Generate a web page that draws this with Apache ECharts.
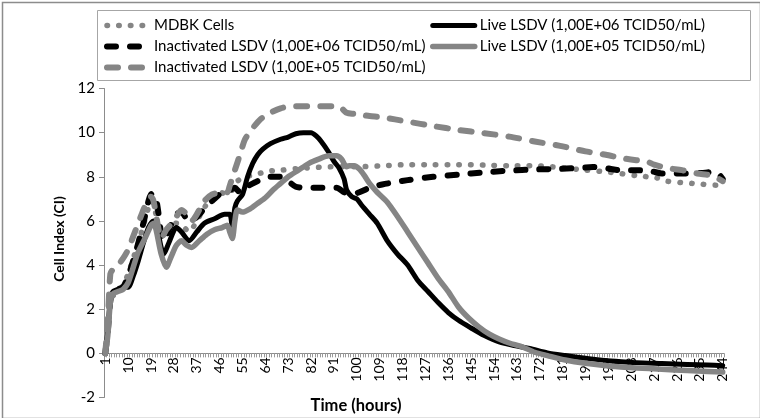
<!DOCTYPE html>
<html><head><meta charset="utf-8">
<script src="https://cdn.jsdelivr.net/npm/echarts@6/dist/echarts.min.js"></script>
<style>html,body{margin:0;padding:0;background:#fff}#c{width:760px;height:418px}</style>
</head><body><div id="c"></div>
<script>
// Category labels: time points 1..244 (labelled every 9th)
const timePoints = [];
for (let h = 1; h <= 244; h++) timePoints.push(String(h));

const seriesNames = [
  'MDBK Cells',
  'Live LSDV (1,00E+06 TCID50/mL)',
  'Inactivated LSDV (1,00E+06 TCID50/mL)',
  'Live LSDV (1,00E+05 TCID50/mL)',
  'Inactivated LSDV (1,00E+05 TCID50/mL)'
];

// [time point, cell index]
const mdbk = [[1,0],[2,0.8],[3,2.4],[4,2.6],[6,2.8],[8,3.1],[10,3.6],[12,4.3],[14,5.0],[16,5.8],[18,6.6],[19,6.9],[20,6.8],[22,5.7],[24,5.2],[26,5.5],[29,5.9],[32,5.7],[34,5.5],[37,6.0],[40,6.6],[43,7.1],[46,7.3],[49,7.2],[51,7.4],[53,7.8],[56,8.0],[60,8.1],[65,8.25],[70,8.3],[80,8.4],[90,8.45],[100,8.45],[110,8.5],[120,8.55],[130,8.55],[140,8.55],[150,8.53],[160,8.5],[170,8.5],[180,8.42],[190,8.3],[200,8.2],[210,8.05],[218,7.95],[222,7.8],[232,7.7],[242,7.62],[244,7.65]];

const live6 = [[1,0],[2,1.0],[3,2.5],[4,2.8],[6,2.9],[8,3.0],[10,3.0],[12,3.5],[14,4.2],[16,5.0],[18,5.7],[20,6.0],[21,5.9],[23,4.8],[24,4.5],[26,5.0],[29,5.7],[31,5.5],[34,5.1],[37,5.5],[40,5.9],[44,6.1],[48,6.3],[50,6.3],[51,5.7],[52,6.6],[53,6.9],[55,7.2],[57,8.0],[59,8.6],[61,9.0],[63,9.25],[66,9.5],[70,9.7],[73,9.8],[76,9.95],[79,10.0],[82,10.0],[84,9.85],[86,9.6],[89,9.1],[91,8.7],[93,8.4],[95,7.9],[96,7.4],[98,7.1],[100,7.0],[102,6.7],[105,6.3],[108,5.9],[112,5.1],[116,4.5],[120,4.0],[124,3.3],[128,2.8],[132,2.3],[136,1.85],[140,1.5],[145,1.15],[150,0.82],[156,0.52],[162,0.35],[168,0.22],[175,0.02],[182,-0.1],[190,-0.22],[200,-0.35],[210,-0.42],[220,-0.46],[230,-0.5],[238,-0.53],[244,-0.56]];

const inact6 = [[1,0],[2,1.0],[3,2.4],[4,2.7],[6,2.9],[8,3.0],[10,3.5],[12,4.2],[14,5.0],[16,5.9],[18,6.9],[19,7.2],[20,7.25],[21,7.0],[22,6.3],[23,5.4],[24,5.1],[26,5.6],[29,6.3],[31,6.4],[33,6.1],[35,6.0],[38,6.3],[41,6.7],[44,7.0],[47,7.3],[50,7.4],[52,7.5],[54,7.3],[56,7.5],[60,7.75],[65,8.0],[70,8.0],[73,7.8],[76,7.55],[80,7.5],[86,7.5],[92,7.5],[95,7.3],[98,7.2],[101,7.3],[105,7.5],[110,7.65],[120,7.85],[130,8.0],[140,8.1],[150,8.2],[160,8.28],[170,8.33],[180,8.36],[190,8.42],[196,8.45],[200,8.35],[204,8.3],[210,8.3],[216,8.25],[220,8.15],[226,8.15],[232,8.15],[238,8.2],[241,8.25],[244,7.9]];

const live5 = [[1,0],[2,0.8],[3,2.3],[4,2.7],[6,2.8],[8,2.9],[10,3.2],[12,3.9],[14,4.6],[17,5.3],[19,5.8],[20,5.9],[21,5.6],[23,4.5],[25,3.9],[27,4.4],[29,4.9],[31,5.1],[33,4.9],[35,4.8],[38,5.1],[41,5.4],[44,5.6],[47,5.7],[49,5.8],[50,5.5],[51,5.2],[52,6.0],[53,6.5],[55,6.4],[58,6.55],[61,6.8],[64,7.05],[67,7.4],[70,7.7],[73,8.0],[77,8.3],[81,8.6],[85,8.8],[89,8.95],[92,8.95],[94,8.8],[96,8.45],[97,8.5],[99,8.5],[101,8.35],[103,8.05],[105,7.7],[108,7.3],[112,6.85],[116,6.2],[120,5.5],[124,4.8],[128,4.1],[132,3.4],[136,2.8],[140,2.1],[144,1.6],[148,1.2],[152,0.88],[156,0.65],[160,0.47],[165,0.3],[170,0.05],[175,-0.1],[182,-0.3],[190,-0.45],[200,-0.58],[210,-0.66],[220,-0.72],[230,-0.78],[238,-0.82],[244,-0.85]];

const inact5 = [[1,0],[2,1.5],[3,3.6],[4,3.8],[6,4.0],[8,4.3],[10,4.7],[12,5.3],[14,5.9],[16,6.5],[18,7.0],[19,7.1],[20,6.9],[22,5.6],[23,5.2],[25,5.6],[28,6.0],[31,6.5],[33,6.3],[35,6.0],[38,6.5],[40,6.9],[43,7.2],[47,7.3],[49,7.3],[50,7.6],[52,8.3],[54,9.0],[56,9.7],[59,10.2],[62,10.6],[66,10.9],[70,11.1],[74,11.2],[80,11.2],[86,11.2],[92,11.2],[94,11.1],[96,10.9],[99,10.85],[102,10.8],[105,10.75],[110,10.7],[115,10.6],[120,10.5],[130,10.3],[140,10.12],[150,9.98],[160,9.82],[170,9.6],[180,9.4],[190,9.15],[198,9.0],[204,8.85],[210,8.75],[214,8.7],[217,8.55],[222,8.4],[228,8.3],[234,8.15],[240,8.05],[244,7.8]];

const yTicks = [-2, 0, 2, 4, 6, 8, 10, 12];

const GRAY = '#858585';
const BLACK = '#000000';
const styles = [
  {color: GRAY, width: 5.5, type: [0.5, 11.2]},
  {color: BLACK, width: 5, type: 'solid'},
  {color: BLACK, width: 6, type: [9, 14]},
  {color: GRAY, width: 5.5, type: 'solid'},
  {color: GRAY, width: 6, type: [11, 13]}
];
const dataSets = [mdbk, live6, inact6, live5, inact5];

const toIdx = arr => arr.map(p => [p[0] - 1, p[1]]);

const series = dataSets.map((d, k) => ({
  name: seriesNames[k],
  type: 'line',
  data: toIdx(d),
  symbol: 'none',
  smooth: 0.25,
  color: styles[k].color,
  lineStyle: {color: styles[k].color, width: styles[k].width, type: styles[k].type, cap: 'round', join: 'round'},
  emphasis: {disabled: true},
  z: 2 + k
}));

const legendItem = k => ({
  name: seriesNames[k],
  lineStyle: {color: styles[k].color, width: styles[k].width, type: styles[k].type, cap: 'round'},
  itemStyle: {opacity: 0}
});

const FONT = 'Lato';
const GRID_TOP = 88.5, GRID_H = 309;
const zeroOffset = GRID_H * (0 - yTicks[0]) / (yTicks[yTicks.length - 1] - yTicks[0]);

const chart = echarts.init(document.getElementById('c'), null, {renderer: 'canvas'});
chart.setOption({
  animation: false,
  backgroundColor: '#fff',
  textStyle: {fontFamily: FONT},
  grid: {left: 104, top: GRID_TOP, width: 620, height: GRID_H, containLabel: false, outerBoundsMode: 'none'},
  legend: [
    {orient: 'vertical', left: 104, top: 18, padding: 0, itemWidth: 42, itemHeight: 14, itemGap: 6,
     textStyle: {fontSize: 15, color: '#000', fontFamily: FONT}, itemStyle: {opacity: 0},
     data: [legendItem(0), legendItem(2), legendItem(4)], selectedMode: false},
    {orient: 'vertical', left: 430, top: 18, padding: 0, itemWidth: 42, itemHeight: 14, itemGap: 6,
     textStyle: {fontSize: 15, color: '#000', fontFamily: FONT}, itemStyle: {opacity: 0},
     data: [legendItem(1), legendItem(3)], selectedMode: false}
  ],
  xAxis: {
    type: 'category',
    data: timePoints,
    boundaryGap: true,
    position: 'bottom',
    offset: -zeroOffset,
    axisLine: {onZero: false, lineStyle: {color: '#8c8c8c', width: 1}},
    axisTick: {show: true, interval: 0, length: 4, lineStyle: {color: '#9a9a9a'}},
    axisLabel: {interval: 8, rotate: 90, fontSize: 14, color: '#000', fontFamily: FONT, margin: 4},
    name: 'Time (hours)',
    nameLocation: 'middle',
    nameGap: 44,
    nameTextStyle: {fontSize: 16.5, fontWeight: 'bold', color: '#000', fontFamily: FONT, padding: [0, 116, 0, 0]},
    splitLine: {show: false}
  },
  yAxis: {
    type: 'value',
    min: yTicks[0], max: yTicks[yTicks.length - 1], interval: 2,
    axisLine: {show: true, lineStyle: {color: '#8c8c8c', width: 1}},
    axisTick: {show: true, length: 5, lineStyle: {color: '#8c8c8c'}},
    axisLabel: {fontSize: 15, color: '#000', fontFamily: FONT, margin: 9},
    splitLine: {show: false},
    name: 'Cell Index (CI)',
    nameLocation: 'middle',
    nameGap: 38,
    nameTextStyle: {fontSize: 14, fontWeight: 'bold', color: '#000', fontFamily: FONT, padding: [0, 0, 0, 8]}
  },
  graphic: [
    {type: 'rect', left: 0, top: 0, silent: true, z: -1,
     shape: {x: 0.5, y: 0.5, width: 758, height: 416},
     style: {fill: 'none', stroke: '#8c8c8c', lineWidth: 1.5}},
    {type: 'rect', silent: true, z: -1,
     shape: {x: 97.5, y: 10.5, width: 653, height: 70},
     style: {fill: 'none', stroke: '#a6a6a6', lineWidth: 1}}
  ],
  series: series
});
</script>
</body></html>
